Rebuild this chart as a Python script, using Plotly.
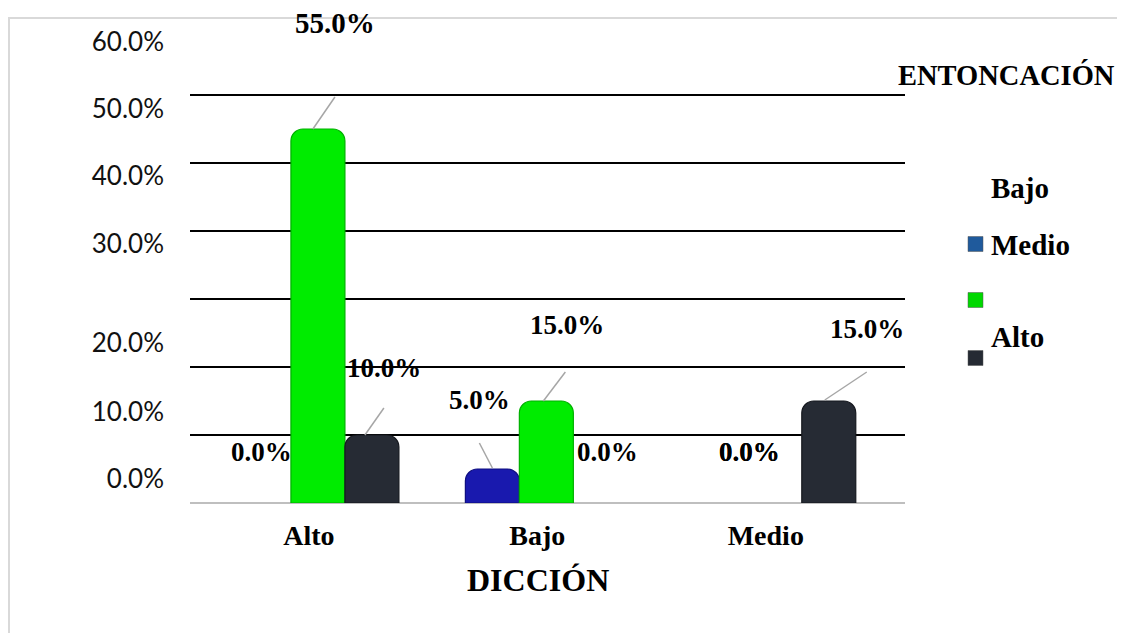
import plotly.graph_objects as go

# ---------------- data ----------------
categories = ["Alto", "Bajo", "Medio"]          # DICCIÓN
series_names = ["Bajo", "Medio", "Alto"]        # ENTONCACIÓN
val_bajo = [0.0, 5.0, 0.0]
val_medio = [55.0, 15.0, 0.0]
val_alto = [10.0, 0.0, 15.0]
series_values = [val_bajo, val_medio, val_alto]
ytick_text = ["60.0%", "50.0%", "40.0%", "30.0%", "20.0%", "10.0%", "0.0%"]
grid_vals = [10, 20, 30, 40, 50, 60]

# ---------------- layout / style ----------------
OFF = 8                      # page body margin
W, H = 1125 - OFF, 633 - OFF
ML, MT = 190 - OFF, 14 - OFF
MR, MB = 220, 130
PW, PH = W - ML - MR, H - MT - MB
YMAX = PH / 6.8
XR = [-0.56, 2.57]
BARGAP = 0.291
bar_w = (1 - BARGAP) / 3

bar_colors = ["#1919ae", "#00ec00", "#262b34"]
bar_edges = ["#0e0e80", "#00b000", "#15181e"]
swatch_colors = ["#1f5a9c", "#00d800", "#252a33"]
ytick_pos = [67.8, 57.9, 48.1, 38.1, 23.5, 13.4, 3.5]

SERIF = "Liberation Serif"
SANS = "Lato"

# label offsets (px, up positive) and leader lines per (series, category)
label_style = {
    (0, 0): dict(dx=-2, dy=51),
    (1, 0): dict(dx=17, dy=106, size=29, line=(-5, 0, 17, 32)),
    (2, 0): dict(dx=12, dy=67, line=(-7, 0, 12, 27)),
    (0, 1): dict(dx=-13, dy=69, line=(0, 1, -13, 26)),
    (1, 1): dict(dx=21, dy=76, line=(-3, 0, 19, 29)),
    (2, 1): dict(dx=7, dy=51),
    (0, 2): dict(dx=29, dy=51),
    (1, 2): dict(dx=-25, dy=51),
    (2, 2): dict(dx=38, dy=72, line=(-4, 1, 38, 29)),
}


def px2x(px):
    return (px - OFF - ML) / PW


def py2y(py):
    return (H - MB - (py - OFF)) / PH


fig = go.Figure()
for i, (name, vals) in enumerate(zip(series_names, series_values)):
    fig.add_trace(go.Bar(
        x=categories, y=vals, name=name,
        marker=dict(color=bar_colors[i],
                    line=dict(color=bar_edges[i], width=[1.2 if v > 0 else 0 for v in vals])),
        showlegend=False,
    ))

annotations = []
shapes = []
for i, vals in enumerate(series_values):
    for j, v in enumerate(vals):
        st = label_style[(i, j)]
        xc = j + (i - 1) * bar_w
        annotations.append(dict(
            x=xc, y=v, xref="x", yref="y", text=f"{v:.1f}%", showarrow=False,
            xshift=st["dx"], yshift=st["dy"], xanchor="center", yanchor="middle",
            font=dict(family=SERIF, size=st.get("size", 27), color="black", weight="bold"),
        ))
        if "line" in st:
            x0, y0, x1, y1 = st["line"]
            shapes.append(dict(
                type="line", xref="x", yref="y", xsizemode="pixel", ysizemode="pixel",
                xanchor=xc, yanchor=v, x0=x0, x1=x1, y0=y0, y1=y1,
                line=dict(color="#a6a6a6", width=1.5), layer="above",
            ))

# axis title
annotations.append(dict(
    x=px2x(538), y=py2y(580), xref="paper", yref="paper", text="DICCIÓN",
    showarrow=False, xanchor="center", yanchor="middle",
    font=dict(family=SERIF, size=32, color="black", weight="bold"),
))

# legend (title, texts, swatches)
annotations.append(dict(
    x=px2x(896), y=py2y(75), xref="paper", yref="paper", text="ENTONCACIÓN",
    showarrow=False, xanchor="left", yanchor="middle",
    font=dict(family=SERIF, size=28.5, color="black", weight="bold"),
))
leg_text_y = [188, 245, 337]
leg_sw_y = [244, 300, 358]
for i, name in enumerate(series_names):
    annotations.append(dict(
        x=px2x(989), y=py2y(leg_text_y[i]), xref="paper", yref="paper", text=name,
        showarrow=False, xanchor="left", yanchor="middle",
        font=dict(family=SERIF, size=29, color="black", weight="bold"),
    ))
    shapes.append(dict(
        type="rect", xref="paper", yref="paper",
        x0=px2x(968), x1=px2x(983), y0=py2y(leg_sw_y[i] + 7.5), y1=py2y(leg_sw_y[i] - 7.5),
        fillcolor=swatch_colors[i], line=dict(color="#555555", width=0.5),
    ))

# outer chart border
shapes.append(dict(
    type="rect", xref="paper", yref="paper",
    x0=px2x(9), x1=px2x(1150), y0=py2y(660), y1=py2y(18),
    line=dict(color="#d9d9d9", width=2), fillcolor="rgba(0,0,0,0)", layer="below",
))

fig.update_layout(
    width=W, height=H, autosize=False,
    margin=dict(l=ML, r=MR, t=MT, b=MB, pad=0),
    paper_bgcolor="white", plot_bgcolor="white",
    barmode="group", bargap=BARGAP, bargroupgap=0, barcornerradius=12,
    xaxis=dict(
        type="category", range=XR, showgrid=False, showline=False, zeroline=False,
        ticks="", ticklabelstandoff=13, ticklabelshift=-9,
        tickfont=dict(family=SERIF, size=28, color="black", weight="bold"),
    ),
    yaxis=dict(
        range=[0, YMAX], tickmode="array", tickvals=ytick_pos, ticktext=ytick_text,
        showgrid=False, zeroline=True, zerolinecolor="#bfbfbf", zerolinewidth=2,
        showline=False, ticks="", ticklabelstandoff=25,
        tickfont=dict(family=SANS, size=26, color="#111111"),
        minor=dict(tickmode="array", tickvals=grid_vals, showgrid=True,
                   gridcolor="black", gridwidth=2, ticks=""),
    ),
    annotations=annotations,
    shapes=shapes,
)

fig.write_html("out.html")
